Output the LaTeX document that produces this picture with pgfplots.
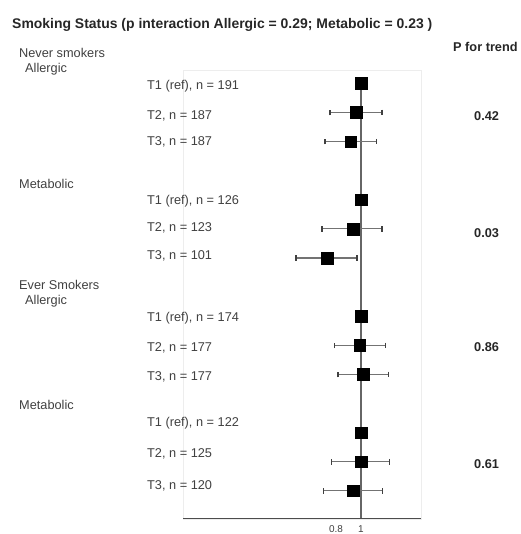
\documentclass[border=0pt]{standalone}
\usepackage{pgfplots}
\pgfplotsset{compat=1.18}
\usepackage{pgfplotstable}
\usepackage{fontspec}
\setmainfont{Liberation Sans}

\pgfplotstableread{
x     y   ep     em
1.000 15  0      0
0.960 14  0.208  0.208
0.918 13  0.208  0.206
1.000 11  0      0
0.936 10  0.232  0.248
0.728 9   0.240  0.248
1.000 7   0      0
0.990 6   0.204  0.200
1.018 5   0.204  0.202
1.000 3   0      0
1.000 2   0.230  0.234
0.938 1   0.236  0.240
}\forest

\begin{document}
\begin{tikzpicture}[x=1bp,y=1bp]
\path[use as bounding box] (0,0) rectangle (521,534);
\begin{axis}[
  at={(183bp,15bp)}, anchor=south west,
  scale only axis, width=238bp, height=449bp,
  xmin=-0.424, xmax=1.48, ymin=0.034, ymax=15.46,
  axis line style={draw=black!7},
  xtick={0.8,1}, xticklabels={0.8,1},
  ytick=\empty,
  major tick length=0pt,
  xticklabel style={font=\fontsize{10}{11}\selectfont, text=black!75, inner sep=1.5bp, yshift=-5bp},
  clip=false,
]
\addplot[black!60, line width=1.3bp] coordinates {(1,0.034) (1,15.19)};
\addplot[only marks, mark=square*, mark size=5.8bp, black,
  error bars/.cd, x dir=both, x explicit,
  error mark=|,
  error bar style={line width=1.1bp, black!55},
  error mark options={mark size=2.8bp, line width=1.3bp, black!75}]
  table[x=x, y=y, x error plus=ep, x error minus=em] {\forest};
\draw[black!70, line width=1bp] (rel axis cs:0,0) -- (rel axis cs:1,0);
\end{axis}

\begin{scope}[every node/.style={inner sep=0pt, anchor=west, font=\fontsize{12.8}{14}\selectfont, text=black!75}]
\node[font=\fontsize{14}{16}\selectfont\bfseries, text=black!85] at (12,509) {Smoking Status (p interaction Allergic = 0.29; Metabolic = 0.23 )};
\node[font=\fontsize{12.8}{14}\selectfont\bfseries, text=black!85] at (453,487.3) {P for trend};
\node at (19,481.3) {Never smokers};
\node at (25,465) {Allergic};
\node at (19,350) {Metabolic};
\node at (19,249) {Ever Smokers};
\node at (25,233) {Allergic};
\node at (19,129) {Metabolic};
\node at (147,447.3) {T1 (ref), n = 191};
\node at (147,418) {T2, n = 187};
\node at (147,392.3) {T3, n = 187};
\node at (147,332.3) {T1 (ref), n = 126};
\node at (147,306) {T2, n = 123};
\node at (147,278) {T3, n = 101};
\node at (147,216) {T1 (ref), n = 174};
\node at (147,186.3) {T2, n = 177};
\node at (147,157.3) {T3, n = 177};
\node at (147,111) {T1 (ref), n = 122};
\node at (147,80) {T2, n = 125};
\node at (147,48) {T3, n = 120};
\node[font=\fontsize{12.8}{14}\selectfont\bfseries, text=black!85] at (474,418) {0.42};
\node[font=\fontsize{12.8}{14}\selectfont\bfseries, text=black!85] at (474,301) {0.03};
\node[font=\fontsize{12.8}{14}\selectfont\bfseries, text=black!85] at (474,187.3) {0.86};
\node[font=\fontsize{12.8}{14}\selectfont\bfseries, text=black!85] at (474,70) {0.61};
\end{scope}
\end{tikzpicture}
\end{document}
